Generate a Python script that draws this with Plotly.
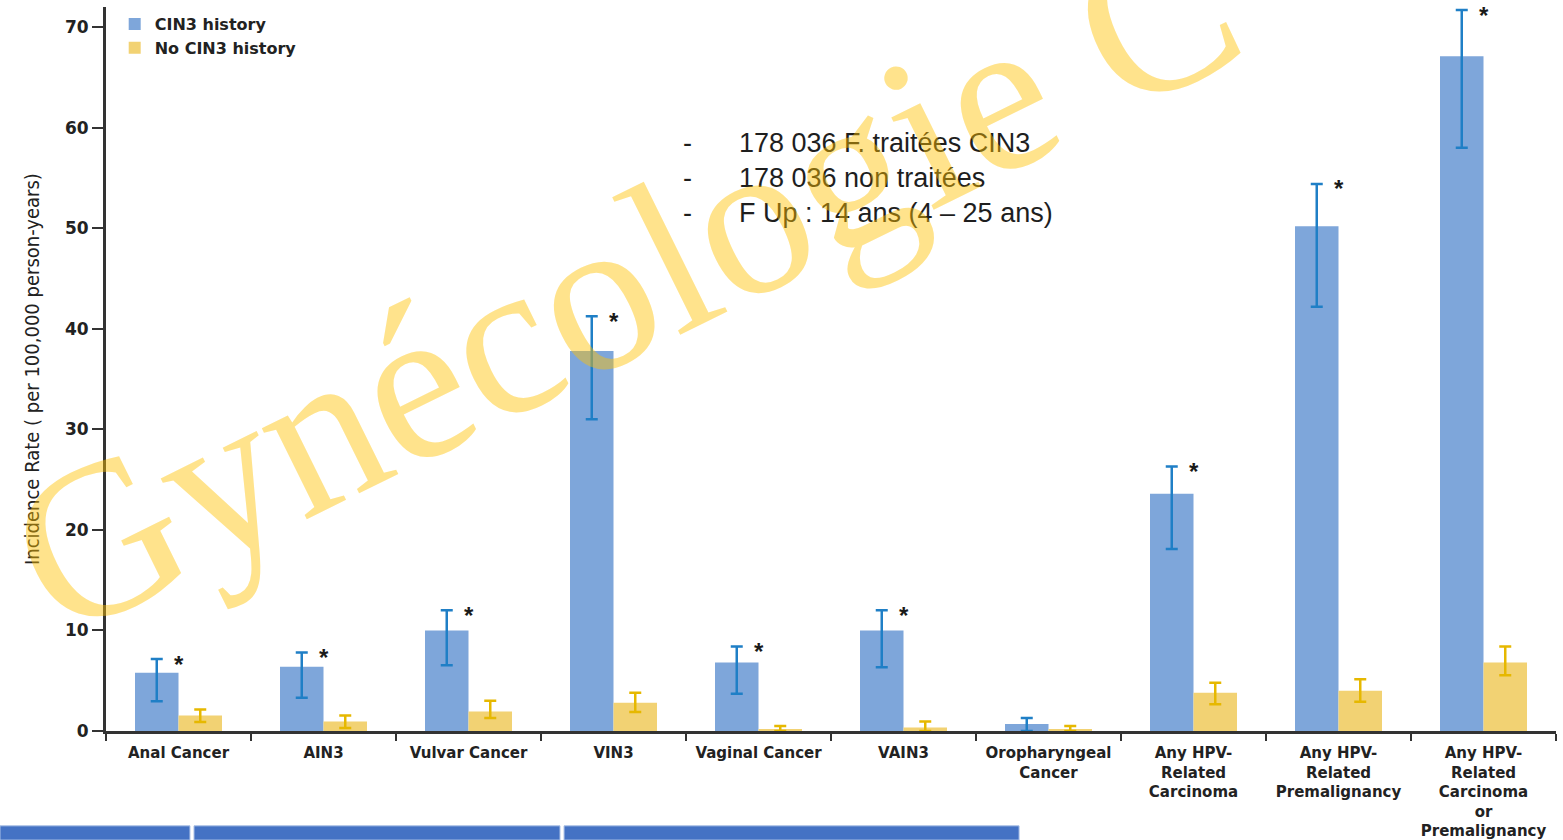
import plotly.graph_objects as go

# Incidence rates per 100,000 person-years, with 95% CI bounds
categories = [
    "Anal Cancer", "AIN3", "Vulvar Cancer", "VIN3", "Vaginal Cancer", "VAIN3",
    "Oropharyngeal<br>Cancer",
    "Any HPV-<br>Related<br>Carcinoma",
    "Any HPV-<br>Related<br>Premalignancy",
    "Any HPV-<br>Related<br>Carcinoma<br>or<br>Premalignancy",
]
cin3_rate = [5.8, 6.4, 10.0, 37.8, 6.8, 10.0, 0.7, 23.6, 50.2, 67.1]
cin3_low = [2.95, 3.3, 6.55, 31.0, 3.7, 6.35, 0.0, 18.1, 42.2, 58.0]
cin3_high = [7.15, 7.8, 12.0, 41.25, 8.4, 12.0, 1.3, 26.3, 54.4, 71.7]
no_cin3_rate = [1.55, 0.95, 1.95, 2.8, 0.17, 0.35, 0.14, 3.8, 4.0, 6.8]
no_cin3_low = [0.9, 0.3, 1.3, 1.9, 0.0, 0.0, 0.0, 2.65, 2.9, 5.55]
no_cin3_high = [2.15, 1.55, 3.0, 3.8, 0.5, 0.95, 0.5, 4.8, 5.15, 8.4]
significant = [True, True, True, True, True, True, False, True, True, True]
y_ticks = [0, 10, 20, 30, 40, 50, 60, 70]

study_notes = [
    "178 036 F. traitées CIN3",
    "178 036 non traitées",
    "F Up : 14 ans (4 \u2013 25 ans)",
]

BLUE = "#7ea6da"
BLUE_ERR = "#1f7fc6"
GOLD = "#f2d273"
GOLD_ERR = "#e6b800"
AXIS = "#333333"
BOLD_FONT = "DejaVu Sans, Arial, sans-serif"


def err_up(vals, hi):
    return [h - v for v, h in zip(vals, hi)]


def err_down(vals, lo):
    return [v - l for v, l in zip(vals, lo)]


fig = go.Figure()
fig.add_trace(go.Bar(
    name="CIN3 history", x=categories, y=cin3_rate,
    marker=dict(color=BLUE, line=dict(width=0)),
    error_y=dict(type="data", symmetric=False,
                 array=err_up(cin3_rate, cin3_high),
                 arrayminus=err_down(cin3_rate, cin3_low),
                 color=BLUE_ERR, thickness=2.5, width=6),
))
fig.add_trace(go.Bar(
    name="No CIN3 history", x=categories, y=no_cin3_rate,
    marker=dict(color=GOLD, line=dict(width=0)),
    error_y=dict(type="data", symmetric=False,
                 array=err_up(no_cin3_rate, no_cin3_high),
                 arrayminus=err_down(no_cin3_rate, no_cin3_low),
                 color=GOLD_ERR, thickness=2.5, width=6),
))

annotations = []
# significance markers above the CIN3 error bars
for cat, hi, sig in zip(categories, cin3_high, significant):
    if sig:
        annotations.append(dict(
            x=cat, y=hi, xref="x", yref="y", text="*", showarrow=False,
            xanchor="center", yanchor="middle", yshift=-5,
            font=dict(family="Liberation Sans, Arial", size=24, color="#1a1a1a", weight="bold"),
        ))

# y-axis title
annotations.append(dict(
    x=-0.051, y=0.5, xref="paper", yref="paper", textangle=-90,
    text="Incidence Rate ( per 100,000 person-years)", showarrow=False,
    xanchor="center", yanchor="middle",
    font=dict(family="Liberation Sans Narrow, DejaVu Sans Condensed, Arial Narrow, sans-serif",
              size=20, color="#222222"),
))

# study summary bullets
annotations.append(dict(
    x=0.4007, y=0.7638, xref="paper", yref="paper",
    text="<br>".join("-" for _ in study_notes), showarrow=False,
    xanchor="center", yanchor="middle", align="center",
    font=dict(family="Liberation Sans, Arial, sans-serif", size=27, color="#1e1e1e"),
))
annotations.append(dict(
    x=0.4352, y=0.7638, xref="paper", yref="paper",
    text="<br>".join(study_notes), showarrow=False,
    xanchor="left", yanchor="middle", align="left",
    font=dict(family="Liberation Sans, Arial, sans-serif", size=27, color="#1e1e1e"),
))

# watermark
annotations.append(dict(
    x=0.3572, y=0.6243, xref="paper", yref="paper", textangle=-26.3,
    text="Gynécologie C", showarrow=False,
    xanchor="center", yanchor="middle",
    font=dict(family="Liberation Serif, Times New Roman, serif", size=221,
              color="rgba(255,192,0,0.45)"),
))

# slide footer bands
shapes = []
for x0, x1 in [(-0.0731, 0.0579), (0.0607, 0.3131), (0.3159, 0.6297)]:
    shapes.append(dict(
        type="rect", xref="paper", yref="paper", x0=x0, x1=x1, y0=-0.1506, y1=-0.131,
        fillcolor="#4472c4", line=dict(color="#a9bfe5", width=1), layer="above",
    ))

fig.update_layout(
    width=1563, height=840,
    margin=dict(l=106, r=7, t=7, b=109),
    paper_bgcolor="white", plot_bgcolor="white",
    barmode="group", bargap=0.4, bargroupgap=0,
    showlegend=True,
    legend=dict(
        x=0.006, y=1.0, xanchor="left", yanchor="top",
        bgcolor="rgba(0,0,0,0)", borderwidth=0, tracegroupgap=0,
        font=dict(family=BOLD_FONT, size=16, color="#222222", weight="bold"),
    ),
    xaxis=dict(
        type="category", showgrid=False, zeroline=False, automargin=False,
        showline=True, linecolor=AXIS, linewidth=3,
        ticks="outside", tickson="boundaries", ticklen=7, tickwidth=2, tickcolor=AXIS,
        ticklabelstandoff=6,
        tickfont=dict(family=BOLD_FONT, size=15, color="#222222", weight="bold"),
    ),
    yaxis=dict(
        range=[0, 72], tickvals=y_ticks, showgrid=False, zeroline=False, automargin=False,
        showline=True, linecolor=AXIS, linewidth=3,
        ticks="outside", ticklen=11, tickwidth=2, tickcolor=AXIS,
        tickfont=dict(family=BOLD_FONT, size=17, color="#222222", weight="bold"),
    ),
    annotations=annotations,
    shapes=shapes,
)

fig.write_html("out.html")
